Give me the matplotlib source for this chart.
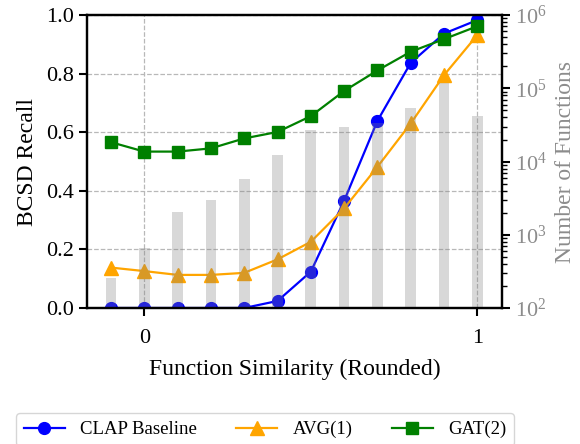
import matplotlib
matplotlib.use("Agg")
import matplotlib.pyplot as plt
import numpy as np

plt.rcParams["font.family"] = ["Liberation Serif", "DejaVu Serif"]
plt.rcParams["mathtext.fontset"] = "custom"
plt.rcParams["mathtext.rm"] = "Liberation Serif"
plt.rcParams["mathtext.it"] = "Liberation Serif:italic"
plt.rcParams["font.size"] = 16
plt.rcParams["xtick.labelsize"] = 16
plt.rcParams["ytick.labelsize"] = 16
plt.rcParams["axes.labelsize"] = 17

# similarity buckets (rounded)
similarity = [-0.1, 0.0, 0.1, 0.2, 0.3, 0.4, 0.5, 0.6, 0.7, 0.8, 0.9, 1.0]

# recall per bucket
clap_recall = [0.0, 0.0, 0.0, 0.0, 0.0, 0.024, 0.124, 0.366, 0.639, 0.837, 0.937, 0.983]
avg1_recall = [0.138, 0.126, 0.113, 0.113, 0.120, 0.166, 0.226, 0.340, 0.482, 0.630, 0.795, 0.932]
gat2_recall = [0.566, 0.534, 0.534, 0.545, 0.579, 0.601, 0.655, 0.741, 0.811, 0.875, 0.918, 0.962]

# number of functions per bucket
n_functions = [257, 650, 2070, 2980, 5770, 12300, 26900, 29900, 33600, 54300, 119000, 41900]

GRAY = "#8c8c8c"

fig = plt.figure(figsize=(5.8, 4.44), dpi=100)
ax = fig.add_axes([0.15, 0.3063, 0.7155, 0.6597])

ax.plot(similarity, clap_recall, color="blue", marker="o", markersize=8.5,
        linewidth=1.6, label="CLAP Baseline")
ax.plot(similarity, avg1_recall, color="orange", marker="^", markersize=9.5,
        linewidth=1.6, label="AVG(1)")
ax.plot(similarity, gat2_recall, color="green", marker="s", markersize=8.5,
        linewidth=1.6, label="GAT(2)")

ax.set_xlim(-0.172, 1.074)
ax.set_ylim(0, 1.0)
ax.set_xticks([0, 1])
ax.set_xticklabels(["0", "1"])
ax.set_yticks([0.0, 0.2, 0.4, 0.6, 0.8, 1.0])
ax.set_xlabel("Function Similarity (Rounded)", labelpad=8)
ax.set_ylabel("BCSD Recall", labelpad=6)
ax.grid(True, linestyle="--", color="#b8b8b8", linewidth=0.9)
ax.tick_params(direction="out", length=6, width=1.5)
ax.tick_params(axis="x", pad=9)
for s in ax.spines.values():
    s.set_linewidth(1.6)

# counts on a log twin axis, drawn over the lines
ax2 = ax.twinx()
ax2.bar(similarity, n_functions, width=0.032, color="gray", alpha=0.3)
ax2.set_yscale("log")
ax2.set_ylim(1e2, 1e6)
ax2.set_ylabel("Number of Functions", color=GRAY, labelpad=6)
ax2.tick_params(axis="y", which="major", colors="black", labelcolor=GRAY,
                length=6, width=1.5)
ax2.tick_params(axis="y", which="minor", colors="black", length=3.5, width=1.0)
for s in ax2.spines.values():
    s.set_linewidth(1.6)

handles, labels = ax.get_legend_handles_labels()
fig.legend(handles, labels, loc="upper center", ncol=3,
           bbox_to_anchor=(265 / 580, 1 - 404 / 444), frameon=True,
           fancybox=True, edgecolor="#cccccc", handlelength=2.2,
           handletextpad=0.8, columnspacing=2.1, fontsize=13.5,
           borderpad=0.4)

fig.savefig("out.png", dpi=100)
